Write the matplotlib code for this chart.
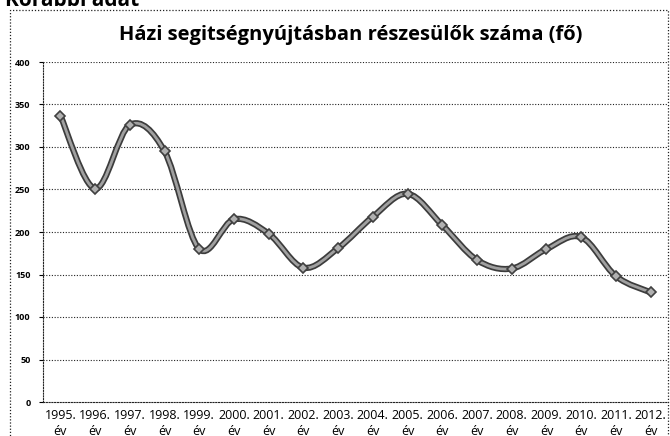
import matplotlib.pyplot as plt
from matplotlib.path import Path
from matplotlib.patches import PathPatch, Rectangle

evek = ["1995.", "1996.", "1997.", "1998.", "1999.", "2000.", "2001.", "2002.", "2003.",
        "2004.", "2005.", "2006.", "2007.", "2008.", "2009.", "2010.", "2011.", "2012."]
fo = [337, 251, 326, 295, 180, 215, 198, 158, 181, 218, 245, 208, 167, 157, 180, 194, 148, 129]
yticks = [0, 50, 100, 150, 200, 250, 300, 350, 400]
cim = "Házi segitségnyújtásban részesülők száma (fő)"

plt.rcParams['font.family'] = ['Open Sans', 'DejaVu Sans']

fig = plt.figure(figsize=(6.7, 4.36), dpi=100)
ax = fig.add_axes([43/670, 34/436, 625/670, 340/436])

x = list(range(len(fo)))


# Excel-like smoothed line (Catmull-Rom -> cubic Bezier)
def sima_ut(xs, ys):
    pts = list(zip(xs, ys))
    verts = [pts[0]]
    codes = [Path.MOVETO]
    n = len(pts)
    for i in range(n - 1):
        p0 = pts[i - 1] if i > 0 else pts[i]
        p1 = pts[i]
        p2 = pts[i + 1]
        p3 = pts[i + 2] if i + 2 < n else pts[i + 1]
        c1 = (p1[0] + (p2[0] - p0[0]) / 6, p1[1] + (p2[1] - p0[1]) / 6)
        c2 = (p2[0] - (p3[0] - p1[0]) / 6, p2[1] - (p3[1] - p1[1]) / 6)
        verts += [c1, c2, p2]
        codes += [Path.CURVE4] * 3
    return Path(verts, codes)


ut = sima_ut(x, fo)
ax.add_patch(PathPatch(ut, facecolor='none', edgecolor='#3c3c3c', lw=4.5, zorder=3))
ax.add_patch(PathPatch(ut, facecolor='none', edgecolor='#a0a0a0', lw=2.0, zorder=4))
ax.plot(x, fo, linestyle='none', marker='D', markersize=5.5,
        markerfacecolor='#b0b0b0', markeredgecolor='#404040', markeredgewidth=1.2, zorder=5)

ax.set_xlim(-0.5, len(fo) - 0.5)
ax.set_ylim(0, 400)
ax.set_yticks(yticks)
ax.set_yticklabels([str(v) for v in yticks], fontsize=6.5, fontweight='bold')
ax.set_xticks(x)
ax.set_xticklabels([e + "\név" for e in evek], fontsize=9, linespacing=1.3)
ax.tick_params(axis='x', length=0, pad=5)
ax.tick_params(axis='y', length=3, width=0.8, pad=6)

for v in yticks[1:]:
    ax.axhline(v, color='#222222', lw=0.8, ls=(0, (1, 1.5)), zorder=1)

for s in ['top', 'right']:
    ax.spines[s].set_visible(False)
for s in ['left', 'bottom']:
    ax.spines[s].set_linestyle((0, (1, 1.5)))
    ax.spines[s].set_linewidth(0.8)
    ax.spines[s].set_color('#222222')

fig.text(351/670, 1 - 35/436, cim, ha='center', va='center', fontsize=14.5, fontweight='bold')
fig.text(5/670, 1 - 6/436, "Korábbi adat", ha='left', va='baseline', fontsize=15,
         fontweight='bold')

fig.patches.append(Rectangle((10/670, -0.1), 658/670, 1.1 - 10/436, transform=fig.transFigure,
                             fill=False, edgecolor='#222222', lw=0.9, ls=(0, (1, 1.5))))

fig.savefig('out.png', dpi=100)
